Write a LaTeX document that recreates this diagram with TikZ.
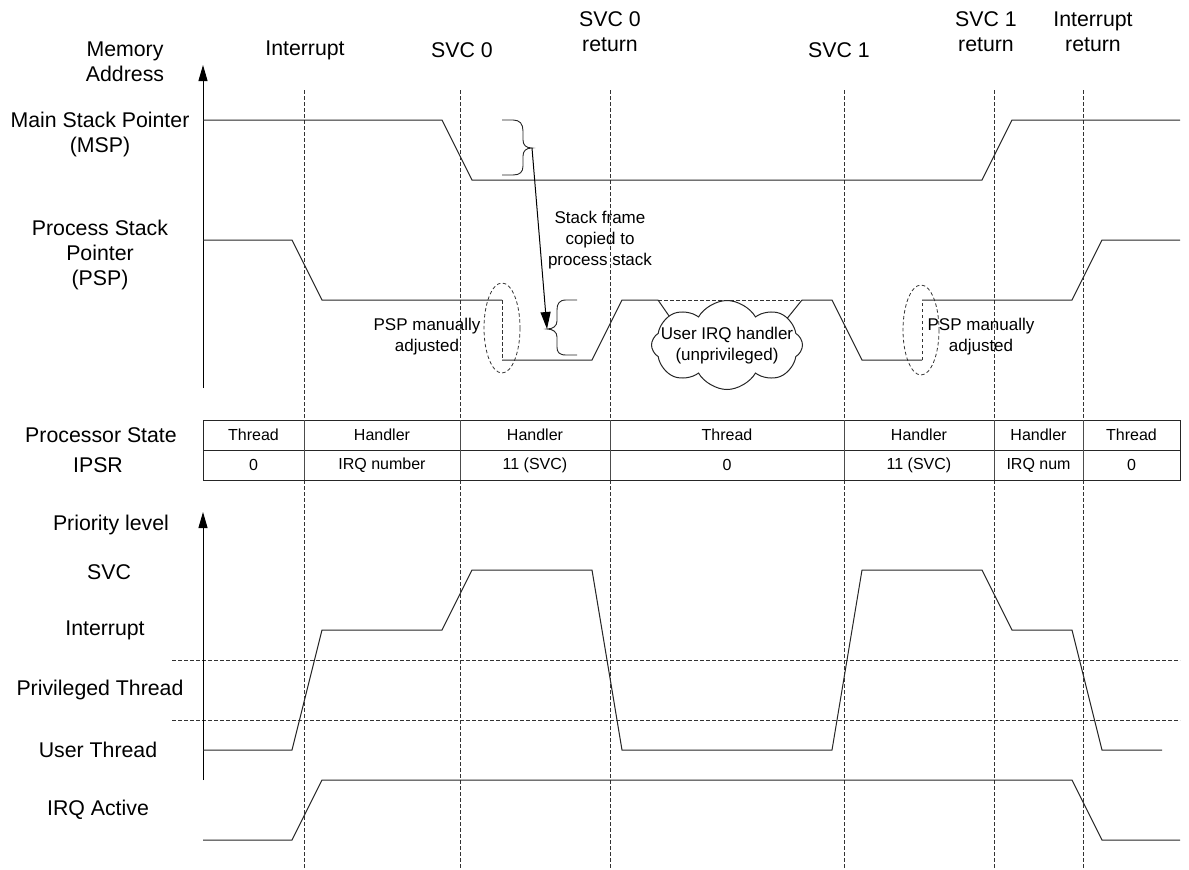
\documentclass[tikz,border=0pt]{standalone}
\usepackage{fontspec}
\setmainfont{Liberation Sans}
\usetikzlibrary{arrows.meta,shapes.symbols}
\begin{document}
\begin{tikzpicture}[x=1pt,y=-1pt,
  big/.style={font=\fontsize{21.3}{25}\selectfont, align=center, inner sep=0pt},
  small/.style={font=\fontsize{17}{21}\selectfont, align=center, inner sep=0pt},
  cell/.style={font=\fontsize{16}{19}\selectfont, inner sep=0pt},
  wave/.style={line width=1pt, line join=miter, draw=black!85},
  guide/.style={line width=0.8pt, dash pattern=on 3.5pt off 2.5pt, draw=black!80},
  axisarrow/.style={line width=1pt, -{Triangle[width=9pt,length=16pt]}},
]
\useasboundingbox (0,0) rectangle (1189,870);

% vertical event guides
\foreach \gx in {304,460,610,844,994,1083}{
  \draw[guide] (\gx,90) -- (\gx,420);
  \draw[guide] (\gx,480) -- (\gx,870);
}
% horizontal priority guides
\draw[guide] (172,660) -- (1180,660);
\draw[guide] (172,720) -- (1180,720);

% event labels
\node[big] (lInt) at (305,50) {Interrupt};
\node[big] (lSvc0) at (462,50) {SVC 0};
\node[big] (lSvc0r) at (610,32) {SVC 0\\return};
\node[big] (lSvc1) at (839,50) {SVC 1};
\node[big] (lSvc1r) at (986,32) {SVC 1\\return};
\node[big] (lIntr) at (1093,32) {Interrupt\\return};

% left labels
\node[big] (lMem) at (125,62) {Memory\\Address};
\node[big] (lMsp) at (100,134) {Main Stack Pointer\\(MSP)};
\node[big] (lPsp) at (100,255) {Process Stack\\Pointer\\(PSP)};
\node[big] (lPs) at (101,435) {Processor State};
\node[big] (lIpsr) at (98,465) {IPSR};
\node[big] (lPri) at (111,525) {Priority level};
\node[big] (lSvc) at (109,572) {SVC};
\node[big] (lIntlev) at (105,630) {Interrupt};
\node[big] (lPriv) at (100,690) {Privileged Thread};
\node[big] (lUser) at (98,750) {User Thread};
\node[big] (lIrq) at (98,810) {IRQ Active};

% axes
\draw[axisarrow] (203,388) -- (203,65);
\draw[axisarrow] (203,780) -- (203,512);

% MSP waveform
\draw[wave] (203,120) -- (442,120) -- (472,180) -- (982,180) -- (1012,120) -- (1180,120);

% PSP waveform
\draw[wave] (203,240) -- (292,240) -- (322,300) -- (502,300);
\draw[guide] (502,300) -- (502,360);
\draw[wave] (502,360) -- (592,360) -- (622,300) -- (658,300);
\draw[guide] (658,300) -- (802,300);
\draw[wave] (802,300) -- (832,300) -- (862,360) -- (922,360);
\draw[guide] (922,360) -- (922,300);
\draw[wave] (922,300) -- (1072,300) -- (1102,240) -- (1180,240);

% cloud callout
\coordinate (cA) at (658,300);
\coordinate (cB) at (802,300);
\coordinate (cA2) at (676,326);
\coordinate (cB2) at (781,326);
\draw[wave] (cA) -- (cA2);
\draw[wave] (cB) -- (cB2);
\node[cloud, draw=black!85, line width=1pt, fill=white, cloud puffs=8, cloud puff arc=120,
      cloud ignores aspect, minimum width=151pt, minimum height=89pt, inner sep=0pt]
      (cloud) at (727,345) {};
\node[small] (cloudtxt) at (727,346) {User IRQ handler\\(unprivileged)};

% manual adjust ellipses
\draw[guide] (502,328) ellipse [x radius=18, y radius=45];
\draw[guide] (921,330) ellipse [x radius=18, y radius=45];
\node[small] (adjL) at (427,337) {PSP manually\\adjusted};
\node[small] (adjR) at (981,337) {PSP manually\\adjusted};

% braces
\coordinate (braceA) at (532,148);
\coordinate (braceB) at (547,329);
\draw[wave, line width=0.9pt] (502,120) -- (513,120) .. controls (520,120) and (523,124) .. (523,131)
  -- (523,140) .. controls (523,145) and (526,148) .. (braceA)
  .. controls (526,148) and (523,151) .. (523,156) -- (523,166)
  .. controls (523,172) and (520,175) .. (513,175) -- (502,175);
\draw[wave, line width=0.9pt] (577,300) -- (566,300) .. controls (559,300) and (557,304) .. (557,310)
  -- (557,321) .. controls (557,326) and (553,329) .. (braceB)
  .. controls (553,329) and (557,332) .. (557,337) -- (557,347)
  .. controls (557,352) and (559,355) .. (566,355) -- (577,355);
\draw[line width=1pt, -{Triangle[width=10pt,length=17pt]}] (braceA) -- (braceB);
\node[small] (sfc) at (600,240) {Stack frame\\copied to\\process stack};

% priority waveform
\draw[wave] (203,750) -- (292,750) -- (322,630) -- (442,630) -- (472,570) -- (592,570)
  -- (622,750) -- (832,750) -- (862,570) -- (982,570) -- (1012,630) -- (1072,630)
  -- (1102,750) -- (1162,750);
% IRQ active waveform
\draw[wave] (203,840) -- (292,840) -- (322,780) -- (1072,780) -- (1102,840) -- (1180,840);

% table
\draw[line width=1pt, draw=black!85] (203,420) rectangle (1180,480);
\draw[line width=1pt, draw=black!85] (203,450) -- (1180,450);
\foreach \gx in {304,460,610,844,994,1083}{
  \draw[line width=1pt, draw=black!70] (\gx,420) -- (\gx,480);
}
\node[cell] (s1) at (253.5,435) {Thread};
\node[cell] (s2) at (382,435) {Handler};
\node[cell] (s3) at (535,435) {Handler};
\node[cell] (s4) at (727,435) {Thread};
\node[cell] (s5) at (919,435) {Handler};
\node[cell] (s6) at (1038.5,435) {Handler};
\node[cell] (s7) at (1131.5,435) {Thread};
\node[cell] (i1) at (253.5,465) {0};
\node[cell] (i2) at (382,465) {IRQ number};
\node[cell] (i3) at (535,465) {11 (SVC)};
\node[cell] (i4) at (727,465) {0};
\node[cell] (i5) at (919,465) {11 (SVC)};
\node[cell] (i6) at (1038.5,465) {IRQ num};
\node[cell] (i7) at (1131.5,465) {0};
\end{tikzpicture}
\end{document}
